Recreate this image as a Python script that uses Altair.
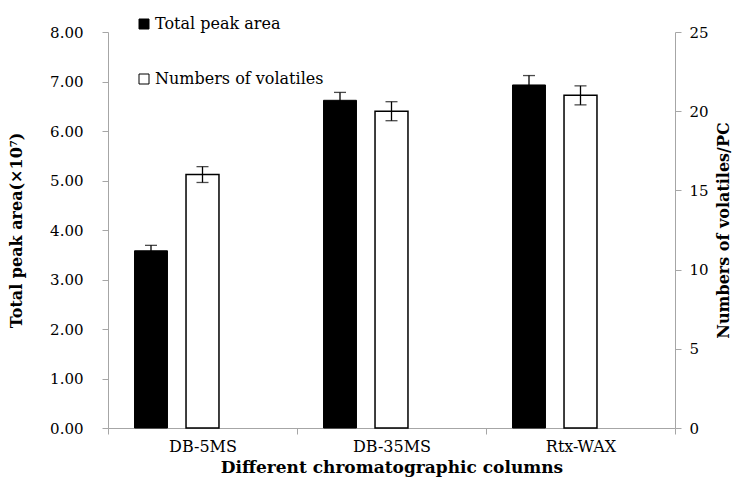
import altair as alt
import pandas as pd

columns = ["DB-5MS", "DB-35MS", "Rtx-WAX"]
peak_area = [3.58, 6.62, 6.93]
peak_err = [0.11, 0.16, 0.19]
volatiles = [16, 20, 21]
vol_err = [0.5, 0.6, 0.6]
series = ["Total peak area", "Numbers of volatiles"]

FONT = "DejaVu Serif"
GRAY = "#A6A6A6"

df_a = pd.DataFrame({
    "col": columns, "val": peak_area,
    "lo": [v - e for v, e in zip(peak_area, peak_err)],
    "hi": [v + e for v, e in zip(peak_area, peak_err)],
    "series": series[0],
})
df_v = pd.DataFrame({
    "col": columns, "val": volatiles,
    "lo": [v - e for v, e in zip(volatiles, vol_err)],
    "hi": [v + e for v, e in zip(volatiles, vol_err)],
    "series": series[1],
})

x_enc = alt.X("col:N", sort=columns, scale=alt.Scale(paddingInner=0, paddingOuter=0),
              axis=alt.Axis(title="Different chromatographic columns", labelAngle=0,
                            tickBand="extent", tickSize=6, tickColor=GRAY, domainColor=GRAY,
                            labelFont=FONT, labelFontSize=16, labelPadding=4, labelColor="black",
                            titleFont=FONT, titleFontSize=17, titleFontWeight="bold",
                            titlePadding=5, titleColor="black"))
xo_enc = alt.XOffset("series:N", scale=alt.Scale(domain=series + ["_"], paddingInner=0.36, paddingOuter=0.515))
color_enc = alt.Color("series:N", scale=alt.Scale(domain=series, range=["black", "white"]),
                      legend=alt.Legend(title=None, orient="none", legendX=28, legendY=-16,
                                        symbolType="square", symbolSize=100,
                                        symbolStrokeColor="black", symbolStrokeWidth=1,
                                        labelFont=FONT, labelFontSize=16, labelColor="black",
                                        labelLimit=400, rowPadding=39, labelOffset=3))

y_left = alt.Y("val:Q", scale=alt.Scale(domain=[0, 8], nice=False),
               axis=alt.Axis(title="Total peak area(×10⁷)", values=list(range(0, 9)), format=".2f",
                             grid=False, tickSize=6, tickColor=GRAY, domainColor=GRAY,
                             labelFont=FONT, labelFontSize=15, labelPadding=19, labelColor="black",
                             titleFont=FONT, titleFontSize=16, titleFontWeight="bold",
                             titleColor="black", titleX=-84))
y_right = alt.Y("val:Q", scale=alt.Scale(domain=[0, 25], nice=False),
                axis=alt.Axis(title="Numbers of volatiles/PC", orient="right", values=list(range(0, 26, 5)),
                              format="d", grid=False, tickSize=6, tickColor=GRAY, domainColor=GRAY,
                              labelFont=FONT, labelFontSize=15, labelPadding=8, labelColor="black",
                              titleFont=FONT, titleFontSize=16, titleFontWeight="bold",
                              titleColor="black", titleAngle=270, titleX=56))

base_a = alt.Chart(df_a)
bars_a = base_a.mark_bar(stroke="black", strokeWidth=1).encode(x=x_enc, xOffset=xo_enc, y=y_left, color=color_enc)
err_a = base_a.mark_rule(color="black", strokeWidth=1.3).encode(x=x_enc, xOffset=xo_enc, y="lo:Q", y2="hi:Q")
cap_a = base_a.mark_tick(color="black", size=12, thickness=1.3).encode(x=x_enc, xOffset=xo_enc, y="hi:Q")
left = alt.layer(bars_a, err_a, cap_a)

base_v = alt.Chart(df_v)
bars_v = base_v.mark_bar(stroke="black", strokeWidth=1.5).encode(x=x_enc, xOffset=xo_enc, y=y_right, color=color_enc)
err_v = base_v.mark_rule(color="black", strokeWidth=1.3).encode(x=x_enc, xOffset=xo_enc, y="lo:Q", y2="hi:Q")
caps_hi = base_v.mark_tick(color="black", size=12, thickness=1.3).encode(x=x_enc, xOffset=xo_enc, y="hi:Q")
caps_lo = base_v.mark_tick(color="black", size=12, thickness=1.3).encode(x=x_enc, xOffset=xo_enc, y="lo:Q")
right = alt.layer(bars_v, err_v, caps_hi, caps_lo)

chart = alt.layer(left, right).resolve_scale(y="independent").properties(
    width=567, height=396,
    autosize=alt.AutoSizeParams(type="none"),
    padding={"left": 108, "top": 32, "right": 64, "bottom": 53},
    background="white",
).configure(
    font=FONT, style={"guide-label": {"font": FONT}}
).configure_view(stroke=None).configure_legend(
    labelFont=FONT, labelFontSize=16, labelColor="black", labelLimit=400
)

chart.save("out.html", embed_options={"renderer": "svg", "actions": False})
